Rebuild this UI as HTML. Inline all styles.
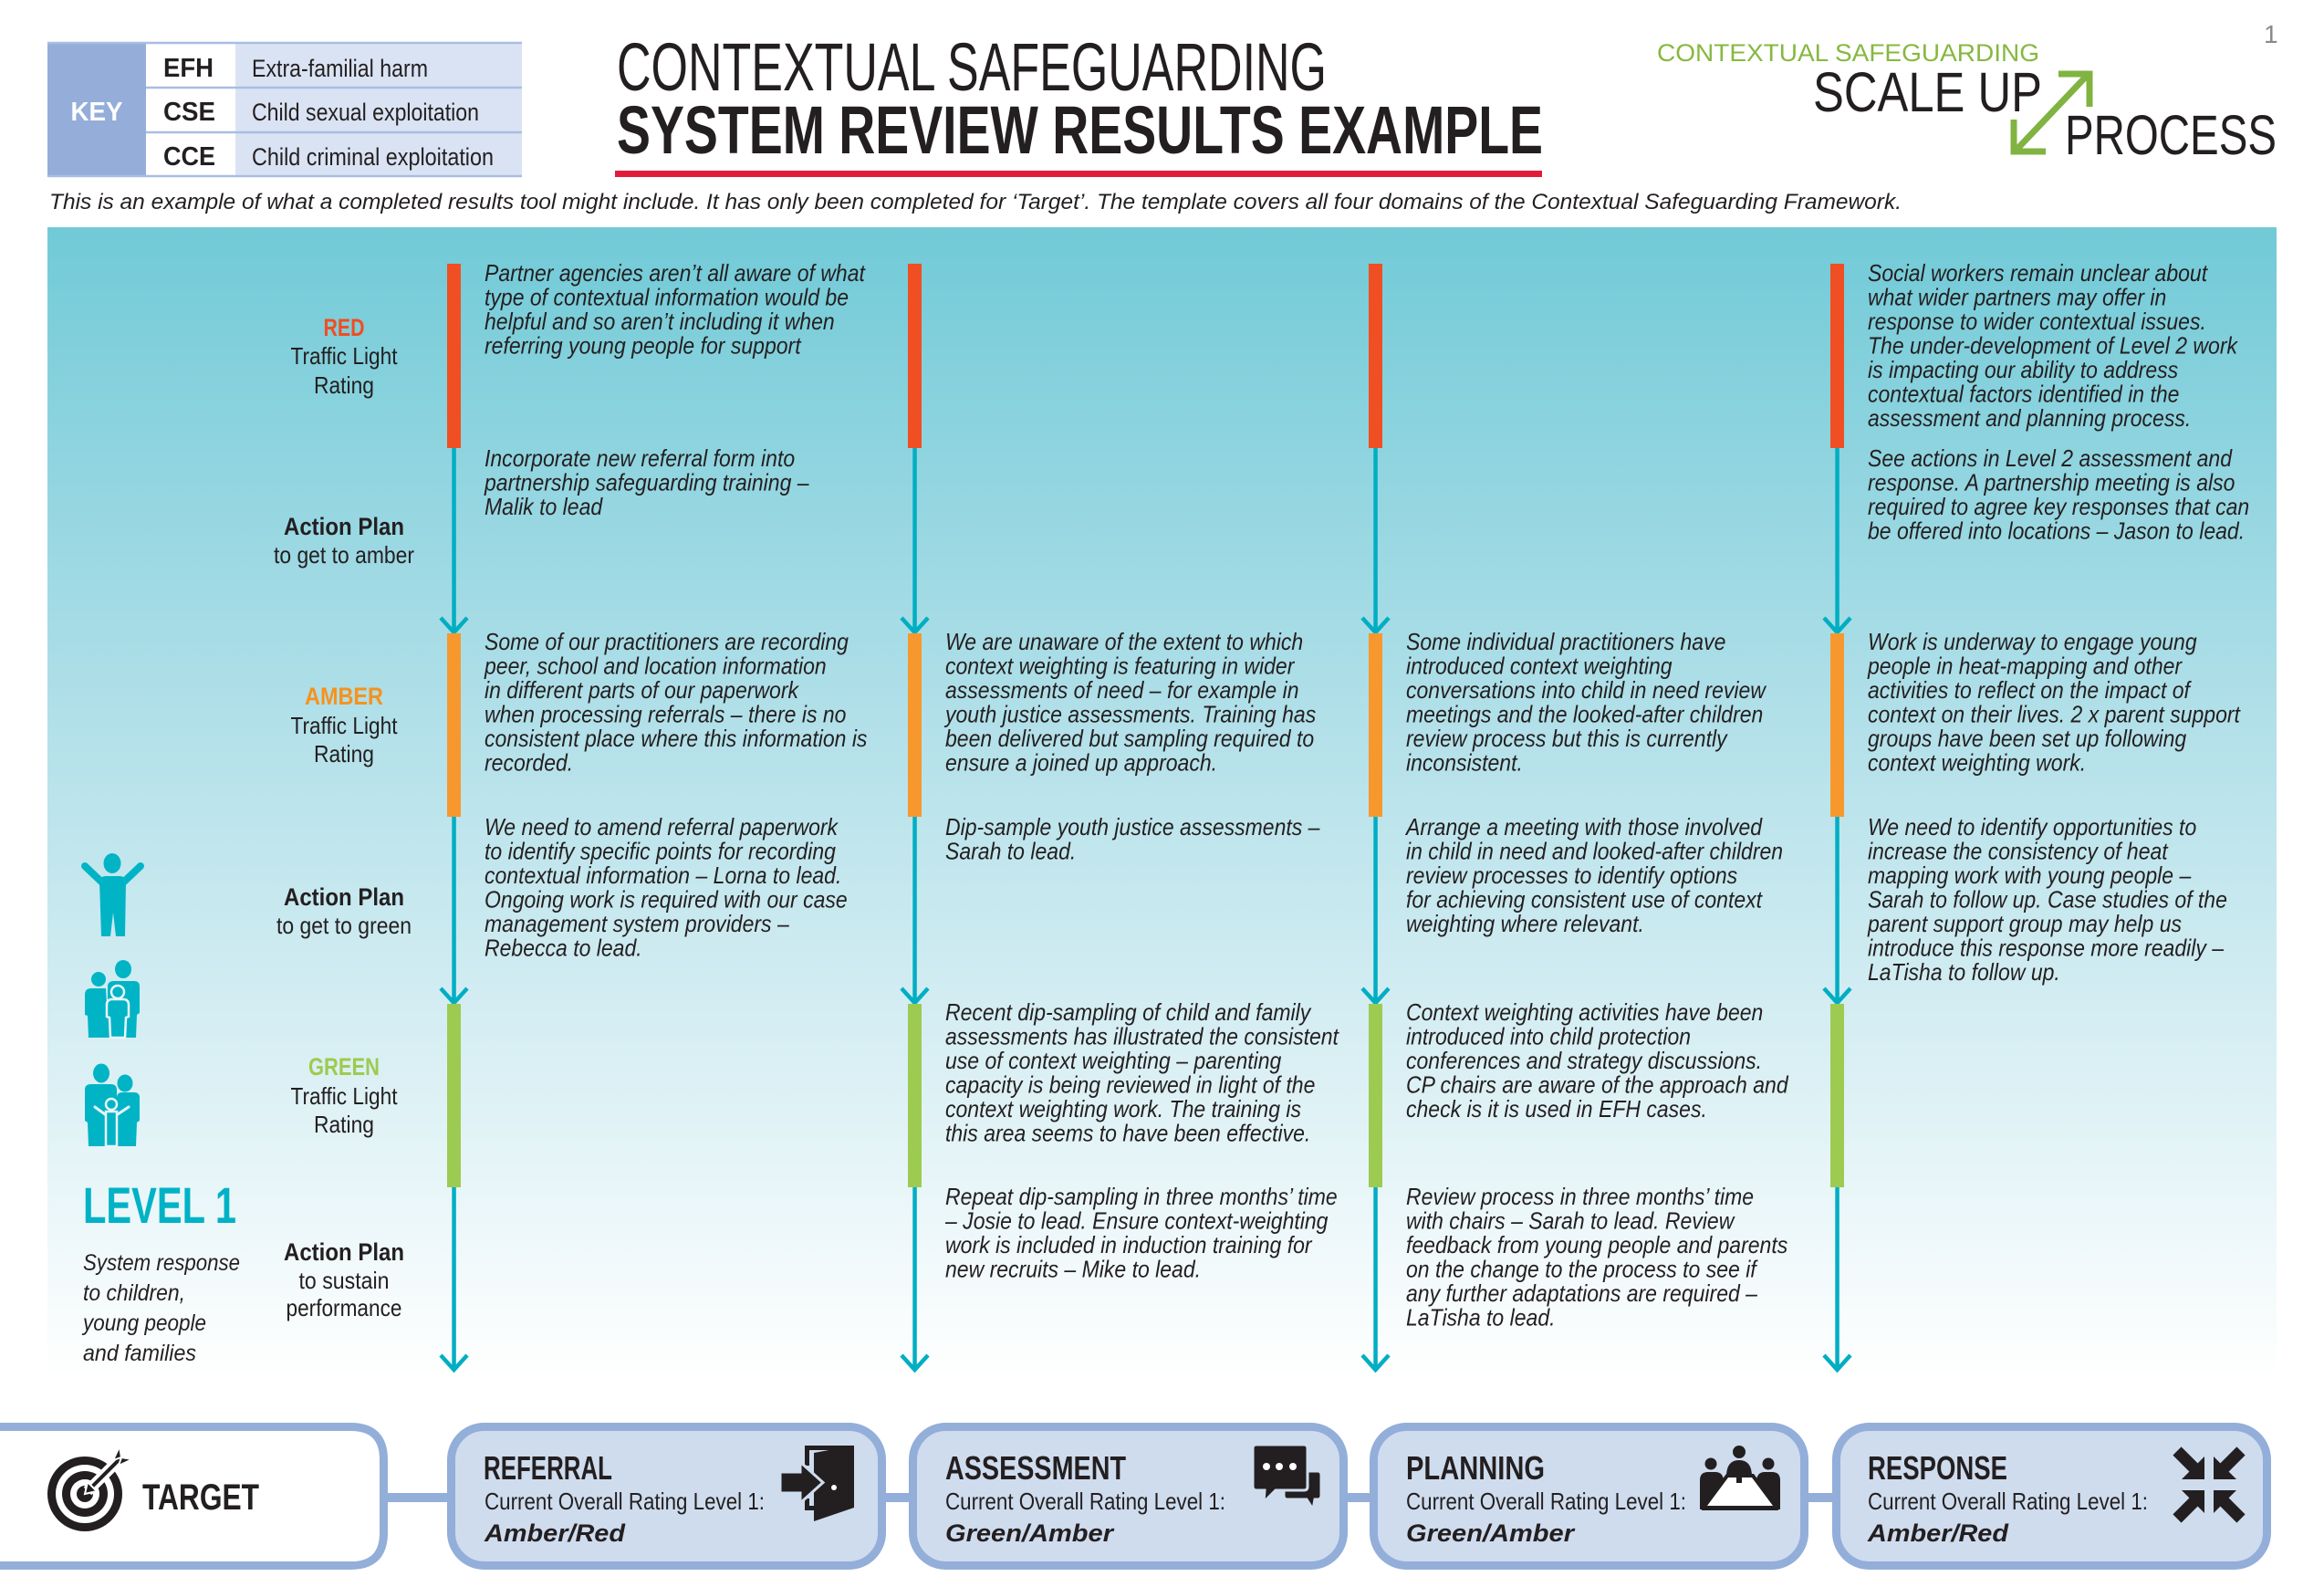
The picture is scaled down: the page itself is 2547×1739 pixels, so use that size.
<!DOCTYPE html>
<html>
<head>
<meta charset="utf-8">
<style>
html,body{margin:0;padding:0;background:#ffffff;}
svg{display:block;}
svg text{font-family:"Liberation Sans",Arial,sans-serif;fill:#231f20;}
.it{font-style:italic;}
.bd{font-weight:bold;}
.body text{font-style:italic;font-size:26px;}
.lab{font-size:26px;text-anchor:middle;}
.labb{font-size:27px;font-weight:bold;text-anchor:middle;}
.ct{font-size:36px;font-weight:bold;}
.cs{font-size:26px;}
.cr{font-size:27px;font-weight:bold;font-style:italic;}
</style>
</head>
<body>
<svg width="2547" height="1739" viewBox="0 0 2547 1739" xmlns="http://www.w3.org/2000/svg">
<defs>
<linearGradient id="bg" x1="0" y1="0" x2="0" y2="1">
<stop offset="0" stop-color="#71cad7"/>
<stop offset="0.45" stop-color="#b5e1ea"/>
<stop offset="0.75" stop-color="#ddf1f5"/>
<stop offset="1" stop-color="#ffffff"/>
</linearGradient>
</defs>

<!-- KEY -->
<rect x="52" y="47" width="108" height="146" fill="#94aed9"/>
<rect x="160" y="47" width="98" height="146" fill="#ffffff"/>
<rect x="258" y="47" width="314" height="146" fill="#dae3f3"/>
<g stroke="#a9bde3" stroke-width="2.5">
<line x1="52" y1="47" x2="572" y2="47"/>
<line x1="160" y1="96" x2="572" y2="96"/>
<line x1="160" y1="145" x2="572" y2="145"/>
<line x1="52" y1="193" x2="572" y2="193"/>
</g>
<text x="106" y="132" class="bd" font-size="29" text-anchor="middle" textLength="57" lengthAdjust="spacingAndGlyphs" style="fill:#ffffff">KEY</text>
<text x="179" y="84" class="bd" font-size="29" textLength="55" lengthAdjust="spacingAndGlyphs">EFH</text>
<text x="179" y="132" class="bd" font-size="29" textLength="57" lengthAdjust="spacingAndGlyphs">CSE</text>
<text x="179" y="181" class="bd" font-size="29" textLength="57" lengthAdjust="spacingAndGlyphs">CCE</text>
<text x="276" y="84" font-size="27" textLength="193" lengthAdjust="spacingAndGlyphs">Extra-familial harm</text>
<text x="276" y="132" font-size="27" textLength="249" lengthAdjust="spacingAndGlyphs">Child sexual exploitation</text>
<text x="276" y="181" font-size="27" textLength="265" lengthAdjust="spacingAndGlyphs">Child criminal exploitation</text>

<!-- Title -->
<text x="676" y="99" font-size="74" textLength="778" lengthAdjust="spacingAndGlyphs">CONTEXTUAL SAFEGUARDING</text>
<text x="676" y="168" class="bd" font-size="74" textLength="1015" lengthAdjust="spacingAndGlyphs">SYSTEM REVIEW RESULTS EXAMPLE</text>
<rect x="674" y="187" width="1016" height="7" fill="#e31b3b"/>

<!-- Logo -->
<text x="1816" y="67" font-size="27" textLength="419" lengthAdjust="spacingAndGlyphs" style="fill:#86b83f">CONTEXTUAL SAFEGUARDING</text>
<text x="1987" y="122" font-size="61" textLength="251" lengthAdjust="spacingAndGlyphs">SCALE UP</text>
<text x="2263" y="169" font-size="61" textLength="232" lengthAdjust="spacingAndGlyphs">PROCESS</text>
<g stroke="#80b341" stroke-width="7" fill="none" stroke-linecap="butt">
<line x1="2211" y1="163" x2="2286" y2="84"/>
<polyline points="2256,81 2290,81 2290,117"/>
<polyline points="2207,131 2207,166 2242,166"/>
</g>
<text x="2481" y="47" font-size="28" style="fill:#8a8a8a">1</text>

<!-- Subtitle -->
<text x="54" y="229" class="it" font-size="24" textLength="2030" lengthAdjust="spacingAndGlyphs">This is an example of what a completed results tool might include. It has only been completed for ‘Target’. The template covers all four domains of the Contextual Safeguarding Framework.</text>

<!-- Panel -->
<rect x="52" y="249" width="2443" height="1262" fill="url(#bg)"/>

<!-- Columns: bars, lines, arrows -->
<g id="cols">
<!-- teal lines -->
<g fill="#00aec3">
<rect x="495.3" y="491" width="4.5" height="201"/>
<rect x="495.3" y="895" width="4.5" height="203"/>
<rect x="495.3" y="1301" width="4.5" height="199"/>
<rect x="1000.3" y="491" width="4.5" height="201"/>
<rect x="1000.3" y="895" width="4.5" height="203"/>
<rect x="1000.3" y="1301" width="4.5" height="199"/>
<rect x="1505.3" y="491" width="4.5" height="201"/>
<rect x="1505.3" y="895" width="4.5" height="203"/>
<rect x="1505.3" y="1301" width="4.5" height="199"/>
<rect x="2011.3" y="491" width="4.5" height="201"/>
<rect x="2011.3" y="895" width="4.5" height="203"/>
<rect x="2011.3" y="1301" width="4.5" height="199"/>
</g>
<g stroke="#00aec3" stroke-width="4.5" fill="none">
<polyline points="483,677 497.5,693 512,677"/>
<polyline points="483,1083 497.5,1099 512,1083"/>
<polyline points="483,1485 497.5,1501 512,1485"/>
<polyline points="988,677 1002.5,693 1017,677"/>
<polyline points="988,1083 1002.5,1099 1017,1083"/>
<polyline points="988,1485 1002.5,1501 1017,1485"/>
<polyline points="1493,677 1507.5,693 1522,677"/>
<polyline points="1493,1083 1507.5,1099 1522,1083"/>
<polyline points="1493,1485 1507.5,1501 1522,1485"/>
<polyline points="1999,677 2013.5,693 2028,677"/>
<polyline points="1999,1083 2013.5,1099 2028,1083"/>
<polyline points="1999,1485 2013.5,1501 2028,1485"/>
</g>
<g>
<rect x="490" y="289" width="15" height="202" fill="#f04f23"/>
<rect x="490" y="694" width="15" height="201" fill="#f7982f"/>
<rect x="490" y="1100" width="15" height="201" fill="#9dcb52"/>
<rect x="995" y="289" width="15" height="202" fill="#f04f23"/>
<rect x="995" y="694" width="15" height="201" fill="#f7982f"/>
<rect x="995" y="1100" width="15" height="201" fill="#9dcb52"/>
<rect x="1500" y="289" width="15" height="202" fill="#f04f23"/>
<rect x="1500" y="694" width="15" height="201" fill="#f7982f"/>
<rect x="1500" y="1100" width="15" height="201" fill="#9dcb52"/>
<rect x="2006" y="289" width="15" height="202" fill="#f04f23"/>
<rect x="2006" y="694" width="15" height="201" fill="#f7982f"/>
<rect x="2006" y="1100" width="15" height="201" fill="#9dcb52"/>
</g>
</g>

<!-- Row labels -->
<text x="377" y="368" class="labb" textLength="45" lengthAdjust="spacingAndGlyphs" style="fill:#ef4e23">RED</text>
<text x="377" y="399" class="lab" textLength="117" lengthAdjust="spacingAndGlyphs">Traffic Light</text>
<text x="377" y="431" class="lab" textLength="66" lengthAdjust="spacingAndGlyphs">Rating</text>
<text x="377" y="586" class="labb" textLength="132" lengthAdjust="spacingAndGlyphs">Action Plan</text>
<text x="377" y="617" class="lab" textLength="154" lengthAdjust="spacingAndGlyphs">to get to amber</text>

<text x="377" y="772" class="labb" textLength="86" lengthAdjust="spacingAndGlyphs" style="fill:#f6921e">AMBER</text>
<text x="377" y="804" class="lab" textLength="117" lengthAdjust="spacingAndGlyphs">Traffic Light</text>
<text x="377" y="835" class="lab" textLength="66" lengthAdjust="spacingAndGlyphs">Rating</text>
<text x="377" y="992" class="labb" textLength="132" lengthAdjust="spacingAndGlyphs">Action Plan</text>
<text x="377" y="1023" class="lab" textLength="148" lengthAdjust="spacingAndGlyphs">to get to green</text>

<text x="377" y="1178" class="labb" textLength="78" lengthAdjust="spacingAndGlyphs" style="fill:#9dcb4f">GREEN</text>
<text x="377" y="1210" class="lab" textLength="117" lengthAdjust="spacingAndGlyphs">Traffic Light</text>
<text x="377" y="1241" class="lab" textLength="66" lengthAdjust="spacingAndGlyphs">Rating</text>
<text x="377" y="1381" class="labb" textLength="132" lengthAdjust="spacingAndGlyphs">Action Plan</text>
<text x="377" y="1412" class="lab" textLength="99" lengthAdjust="spacingAndGlyphs">to sustain</text>
<text x="377" y="1442" class="lab" textLength="127" lengthAdjust="spacingAndGlyphs">performance</text>

<!-- Level 1 -->
<text x="91" y="1340" class="bd" font-size="56" textLength="168" lengthAdjust="spacingAndGlyphs" style="fill:#00b2c6">LEVEL 1</text>
<text x="91" y="1392" class="it" font-size="25" textLength="172" lengthAdjust="spacingAndGlyphs">System response</text>
<text x="91" y="1425" class="it" font-size="25" textLength="112" lengthAdjust="spacingAndGlyphs">to children,</text>
<text x="91" y="1458" class="it" font-size="25" textLength="135" lengthAdjust="spacingAndGlyphs">young people</text>
<text x="91" y="1491" class="it" font-size="25" textLength="124" lengthAdjust="spacingAndGlyphs">and families</text>

<!-- People icons -->
<g fill="#00b4c6">
<!-- icon 1 -->
<ellipse cx="123" cy="946" rx="9.5" ry="11"/>
<g stroke="#00b4c6" stroke-width="8" stroke-linecap="round">
<line x1="93" y1="949" x2="113" y2="968"/>
<line x1="154" y1="949" x2="134" y2="968"/>
</g>
<path d="M109,966 Q110,960 116,960 L131,960 Q137,960 138,966 L137,1026 L127,1026 L124,1000 L121,1026 L111,1026 Z"/>
<!-- icon 2 -->
<circle cx="108" cy="1073" r="8"/>
<path d="M93,1090 Q93,1083 100,1083 L116,1083 L119,1137 L97,1137 L96,1113 L93,1112 Z"/>
<ellipse cx="135" cy="1062" rx="9" ry="10"/>
<path d="M118,1081 Q118,1075 125,1075 L147,1075 Q153,1075 153,1081 L153,1110 L150,1112 L149,1137 L118,1137 Z"/>
<g stroke="#eaf6f9" stroke-width="2.5">
<circle cx="129" cy="1087" r="7"/>
<path d="M117,1101 Q117,1095 123,1095 L135,1095 Q141,1095 141,1101 L141,1114 L138,1115 L137,1137 L121,1137 L120,1115 L117,1114 Z"/>
</g>
<!-- icon 3 -->
<ellipse cx="111" cy="1176" rx="9" ry="10.5"/>
<path d="M93,1194 Q93,1188 100,1188 L121,1188 Q128,1188 128,1194 L128,1256 L97,1256 L96,1230 L93,1228 Z"/>
<ellipse cx="137" cy="1187" rx="8.5" ry="9.5"/>
<path d="M128,1203 Q128,1197 134,1197 L147,1197 Q153,1197 153,1203 L153,1228 L150,1230 L149,1256 L128,1256 Z"/>
<g stroke="#e8f5f8" stroke-width="2.5">
<circle cx="122" cy="1210" r="6"/>
<path d="M116,1218 L128,1218 L128,1256 L116,1256 Z"/>
</g>
<g stroke="#e8f5f8" stroke-width="3" stroke-linecap="round" fill="none">
<line x1="104" y1="1213" x2="115" y2="1221"/>
<line x1="141" y1="1213" x2="129" y2="1221"/>
</g>
</g>

<!-- Body paragraphs -->
<g class="body">
<!-- Column 1 -->
<g transform="translate(531,308) scale(0.885,1)"><text>
<tspan x="0" y="0">Partner agencies aren’t all aware of what</tspan>
<tspan x="0" y="26.5">type of contextual information would be</tspan>
<tspan x="0" y="53">helpful and so aren’t including it when</tspan>
<tspan x="0" y="79.5">referring young people for support</tspan>
</text></g>
<g transform="translate(531,511) scale(0.885,1)"><text>
<tspan x="0" y="0">Incorporate new referral form into</tspan>
<tspan x="0" y="26.5">partnership safeguarding training –</tspan>
<tspan x="0" y="53">Malik to lead</tspan>
</text></g>
<g transform="translate(531,712) scale(0.885,1)"><text>
<tspan x="0" y="0">Some of our practitioners are recording</tspan>
<tspan x="0" y="26.5">peer, school and location information</tspan>
<tspan x="0" y="53">in different parts of our paperwork</tspan>
<tspan x="0" y="79.5">when processing referrals – there is no</tspan>
<tspan x="0" y="106">consistent place where this information is</tspan>
<tspan x="0" y="132.5">recorded.</tspan>
</text></g>
<g transform="translate(531,915) scale(0.885,1)"><text>
<tspan x="0" y="0">We need to amend referral paperwork</tspan>
<tspan x="0" y="26.5">to identify specific points for recording</tspan>
<tspan x="0" y="53">contextual information – Lorna to lead.</tspan>
<tspan x="0" y="79.5">Ongoing work is required with our case</tspan>
<tspan x="0" y="106">management system providers –</tspan>
<tspan x="0" y="132.5">Rebecca to lead.</tspan>
</text></g>

<!-- Column 2 -->
<g transform="translate(1036,712) scale(0.885,1)"><text>
<tspan x="0" y="0">We are unaware of the extent to which</tspan>
<tspan x="0" y="26.5">context weighting is featuring in wider</tspan>
<tspan x="0" y="53">assessments of need – for example in</tspan>
<tspan x="0" y="79.5">youth justice assessments. Training has</tspan>
<tspan x="0" y="106">been delivered but sampling required to</tspan>
<tspan x="0" y="132.5">ensure a joined up approach.</tspan>
</text></g>
<g transform="translate(1036,915) scale(0.885,1)"><text>
<tspan x="0" y="0">Dip-sample youth justice assessments –</tspan>
<tspan x="0" y="26.5">Sarah to lead.</tspan>
</text></g>
<g transform="translate(1036,1118) scale(0.885,1)"><text>
<tspan x="0" y="0">Recent dip-sampling of child and family</tspan>
<tspan x="0" y="26.5">assessments has illustrated the consistent</tspan>
<tspan x="0" y="53">use of context weighting – parenting</tspan>
<tspan x="0" y="79.5">capacity is being reviewed in light of the</tspan>
<tspan x="0" y="106">context weighting work. The training is</tspan>
<tspan x="0" y="132.5">this area seems to have been effective.</tspan>
</text></g>
<g transform="translate(1036,1320) scale(0.885,1)"><text>
<tspan x="0" y="0">Repeat dip-sampling in three months’ time</tspan>
<tspan x="0" y="26.5">– Josie to lead. Ensure context-weighting</tspan>
<tspan x="0" y="53">work is included in induction training for</tspan>
<tspan x="0" y="79.5">new recruits – Mike to lead.</tspan>
</text></g>

<!-- Column 3 -->
<g transform="translate(1541,712) scale(0.885,1)"><text>
<tspan x="0" y="0">Some individual practitioners have</tspan>
<tspan x="0" y="26.5">introduced context weighting</tspan>
<tspan x="0" y="53">conversations into child in need review</tspan>
<tspan x="0" y="79.5">meetings and the looked-after children</tspan>
<tspan x="0" y="106">review process but this is currently</tspan>
<tspan x="0" y="132.5">inconsistent.</tspan>
</text></g>
<g transform="translate(1541,915) scale(0.885,1)"><text>
<tspan x="0" y="0">Arrange a meeting with those involved</tspan>
<tspan x="0" y="26.5">in child in need and looked-after children</tspan>
<tspan x="0" y="53">review processes to identify options</tspan>
<tspan x="0" y="79.5">for achieving consistent use of context</tspan>
<tspan x="0" y="106">weighting where relevant.</tspan>
</text></g>
<g transform="translate(1541,1118) scale(0.885,1)"><text>
<tspan x="0" y="0">Context weighting activities have been</tspan>
<tspan x="0" y="26.5">introduced into child protection</tspan>
<tspan x="0" y="53">conferences and strategy discussions.</tspan>
<tspan x="0" y="79.5">CP chairs are aware of the approach and</tspan>
<tspan x="0" y="106">check is it is used in EFH cases.</tspan>
</text></g>
<g transform="translate(1541,1320) scale(0.885,1)"><text>
<tspan x="0" y="0">Review process in three months’ time</tspan>
<tspan x="0" y="26.5">with chairs – Sarah to lead. Review</tspan>
<tspan x="0" y="53">feedback from young people and parents</tspan>
<tspan x="0" y="79.5">on the change to the process to see if</tspan>
<tspan x="0" y="106">any further adaptations are required –</tspan>
<tspan x="0" y="132.5">LaTisha to lead.</tspan>
</text></g>

<!-- Column 4 -->
<g transform="translate(2047,308) scale(0.885,1)"><text>
<tspan x="0" y="0">Social workers remain unclear about</tspan>
<tspan x="0" y="26.5">what wider partners may offer in</tspan>
<tspan x="0" y="53">response to wider contextual issues.</tspan>
<tspan x="0" y="79.5">The under-development of Level 2 work</tspan>
<tspan x="0" y="106">is impacting our ability to address</tspan>
<tspan x="0" y="132.5">contextual factors identified in the</tspan>
<tspan x="0" y="159">assessment and planning process.</tspan>
</text></g>
<g transform="translate(2047,511) scale(0.885,1)"><text>
<tspan x="0" y="0">See actions in Level 2 assessment and</tspan>
<tspan x="0" y="26.5">response. A partnership meeting is also</tspan>
<tspan x="0" y="53">required to agree key responses that can</tspan>
<tspan x="0" y="79.5">be offered into locations – Jason to lead.</tspan>
</text></g>
<g transform="translate(2047,712) scale(0.885,1)"><text>
<tspan x="0" y="0">Work is underway to engage young</tspan>
<tspan x="0" y="26.5">people in heat-mapping and other</tspan>
<tspan x="0" y="53">activities to reflect on the impact of</tspan>
<tspan x="0" y="79.5">context on their lives. 2 x parent support</tspan>
<tspan x="0" y="106">groups have been set up following</tspan>
<tspan x="0" y="132.5">context weighting work.</tspan>
</text></g>
<g transform="translate(2047,915) scale(0.885,1)"><text>
<tspan x="0" y="0">We need to identify opportunities to</tspan>
<tspan x="0" y="26.5">increase the consistency of heat</tspan>
<tspan x="0" y="53">mapping work with young people –</tspan>
<tspan x="0" y="79.5">Sarah to follow up. Case studies of the</tspan>
<tspan x="0" y="106">parent support group may help us</tspan>
<tspan x="0" y="132.5">introduce this response more readily –</tspan>
<tspan x="0" y="159">LaTisha to follow up.</tspan>
</text></g>
</g>

<!-- Bottom cards -->
<g fill="#93aed9">
<rect x="420" y="1636" width="75" height="10"/>
<rect x="966" y="1636" width="35" height="10"/>
<rect x="1472" y="1636" width="34" height="10"/>
<rect x="1977" y="1636" width="36" height="10"/>
</g>
<path d="M-20,1563.5 L384.5,1563.5 Q420.5,1563.5 420.5,1599.5 L420.5,1679.5 Q420.5,1715.5 384.5,1715.5 L-20,1715.5 Z" fill="#ffffff" stroke="#93aed9" stroke-width="9"/>
<rect x="494.5" y="1563.5" width="472" height="152" rx="36" ry="36" fill="#cfdcee" stroke="#93aed9" stroke-width="9"/>
<rect x="1000.5" y="1563.5" width="472" height="152" rx="36" ry="36" fill="#cfdcee" stroke="#93aed9" stroke-width="9"/>
<rect x="1505.5" y="1563.5" width="472" height="152" rx="36" ry="36" fill="#cfdcee" stroke="#93aed9" stroke-width="9"/>
<rect x="2012.5" y="1563.5" width="472" height="152" rx="36" ry="36" fill="#cfdcee" stroke="#93aed9" stroke-width="9"/>

<!-- Target icon -->
<g>
<circle cx="93" cy="1637" r="41" fill="#231f20"/>
<circle cx="93" cy="1637" r="32" fill="#ffffff"/>
<circle cx="93" cy="1637" r="25" fill="#231f20"/>
<circle cx="93" cy="1637" r="16" fill="#ffffff"/>
<circle cx="93" cy="1637" r="9" fill="#231f20"/>
<line x1="96" y1="1634" x2="132" y2="1598" stroke="#ffffff" stroke-width="12"/>
<line x1="95" y1="1635" x2="132" y2="1598" stroke="#231f20" stroke-width="4"/>
<polygon points="93,1637 96,1624 106,1634" fill="#231f20" stroke="#ffffff" stroke-width="2"/>
<polygon points="124,1600 131,1585 133,1597" fill="#231f20" stroke="#ffffff" stroke-width="2"/>
<polygon points="130,1606 145,1599 133,1597" fill="#231f20" stroke="#ffffff" stroke-width="2"/>
</g>
<text x="156" y="1654" class="bd" font-size="40" textLength="128" lengthAdjust="spacingAndGlyphs">TARGET</text>

<!-- Card texts -->
<text x="530" y="1621" class="ct" textLength="141" lengthAdjust="spacingAndGlyphs">REFERRAL</text>
<text x="531" y="1654" class="cs" textLength="307" lengthAdjust="spacingAndGlyphs">Current Overall Rating Level 1:</text>
<text x="531" y="1689" class="cr" textLength="154" lengthAdjust="spacingAndGlyphs">Amber/Red</text>

<text x="1036" y="1621" class="ct" textLength="198" lengthAdjust="spacingAndGlyphs">ASSESSMENT</text>
<text x="1036" y="1654" class="cs" textLength="307" lengthAdjust="spacingAndGlyphs">Current Overall Rating Level 1:</text>
<text x="1036" y="1689" class="cr" textLength="184" lengthAdjust="spacingAndGlyphs">Green/Amber</text>

<text x="1541" y="1621" class="ct" textLength="152" lengthAdjust="spacingAndGlyphs">PLANNING</text>
<text x="1541" y="1654" class="cs" textLength="307" lengthAdjust="spacingAndGlyphs">Current Overall Rating Level 1:</text>
<text x="1541" y="1689" class="cr" textLength="184" lengthAdjust="spacingAndGlyphs">Green/Amber</text>

<text x="2047" y="1621" class="ct" textLength="153" lengthAdjust="spacingAndGlyphs">RESPONSE</text>
<text x="2047" y="1654" class="cs" textLength="307" lengthAdjust="spacingAndGlyphs">Current Overall Rating Level 1:</text>
<text x="2047" y="1689" class="cr" textLength="154" lengthAdjust="spacingAndGlyphs">Amber/Red</text>

<!-- Referral door icon -->
<g fill="#231f20">
<rect x="882" y="1584" width="54" height="5"/>
<rect x="882" y="1584" width="5" height="22"/>
<rect x="882" y="1642" width="5" height="12"/>
<rect x="882" y="1650" width="20" height="5"/>
<polygon points="892,1592 936,1584 936,1652 892,1667"/>
<circle cx="914" cy="1630" r="3" fill="#ffffff"/>
<polygon points="855,1613 877,1613 877,1602 902,1624.5 877,1647 877,1636 855,1636" stroke="#cfdcee" stroke-width="3"/>
</g>

<!-- Assessment speech icon -->
<g fill="#231f20">
<path d="M1411,1612 L1444,1612 Q1448,1612 1448,1616 L1448,1639 Q1448,1643 1444,1643 L1441,1643 L1439,1654 L1432,1643 L1411,1643 Q1407,1643 1407,1639 L1407,1616 Q1407,1612 1411,1612 Z" stroke="#cfdcee" stroke-width="3"/>
<path d="M1377,1583 L1429,1583 Q1433,1583 1433,1587 L1433,1629 Q1433,1633 1429,1633 L1398,1633 L1385,1646 L1386,1633 L1377,1633 Q1373,1633 1373,1629 L1373,1587 Q1373,1583 1377,1583 Z" stroke="#cfdcee" stroke-width="3"/>
<circle cx="1388" cy="1607" r="4" fill="#ffffff"/>
<circle cx="1402" cy="1607" r="4" fill="#ffffff"/>
<circle cx="1417" cy="1607" r="4" fill="#ffffff"/>
</g>

<!-- Planning icon -->
<g fill="#231f20">
<circle cx="1906" cy="1591" r="7"/>
<path d="M1892,1618 Q1892,1600 1906,1600 Q1920,1600 1920,1618 Z"/>
<circle cx="1875" cy="1604" r="6.5"/>
<path d="M1863,1654 L1863,1622 Q1863,1613 1872,1613 L1880,1613 Q1888,1613 1889,1622 L1889,1654 Z"/>
<circle cx="1938" cy="1604" r="6.5"/>
<path d="M1925,1654 L1925,1622 Q1926,1613 1934,1613 L1942,1613 Q1951,1613 1951,1622 L1951,1654 Z"/>
<polygon points="1893,1617 1921,1617 1947,1652 1867,1652" fill="#ffffff" stroke="#231f20" stroke-width="4"/>
<rect x="1865" y="1650" width="84" height="5"/>
<rect x="1903" y="1617" width="6" height="8"/>
</g>

<!-- Response icon -->
<g fill="#231f20">
<line x1="2386" y1="1590" x2="2406" y2="1610" stroke="#231f20" stroke-width="13"/>
<polygon points="2416,1621 2416,1596 2391,1621"/>
<line x1="2456" y1="1590" x2="2436" y2="1610" stroke="#231f20" stroke-width="13"/>
<polygon points="2426,1621 2426,1596 2451,1621"/>
<line x1="2386" y1="1664" x2="2406" y2="1644" stroke="#231f20" stroke-width="13"/>
<polygon points="2416,1633 2416,1658 2391,1633"/>
<line x1="2456" y1="1664" x2="2436" y2="1644" stroke="#231f20" stroke-width="13"/>
<polygon points="2426,1633 2426,1658 2451,1633"/>
</g>
</svg>
</body>
</html>
